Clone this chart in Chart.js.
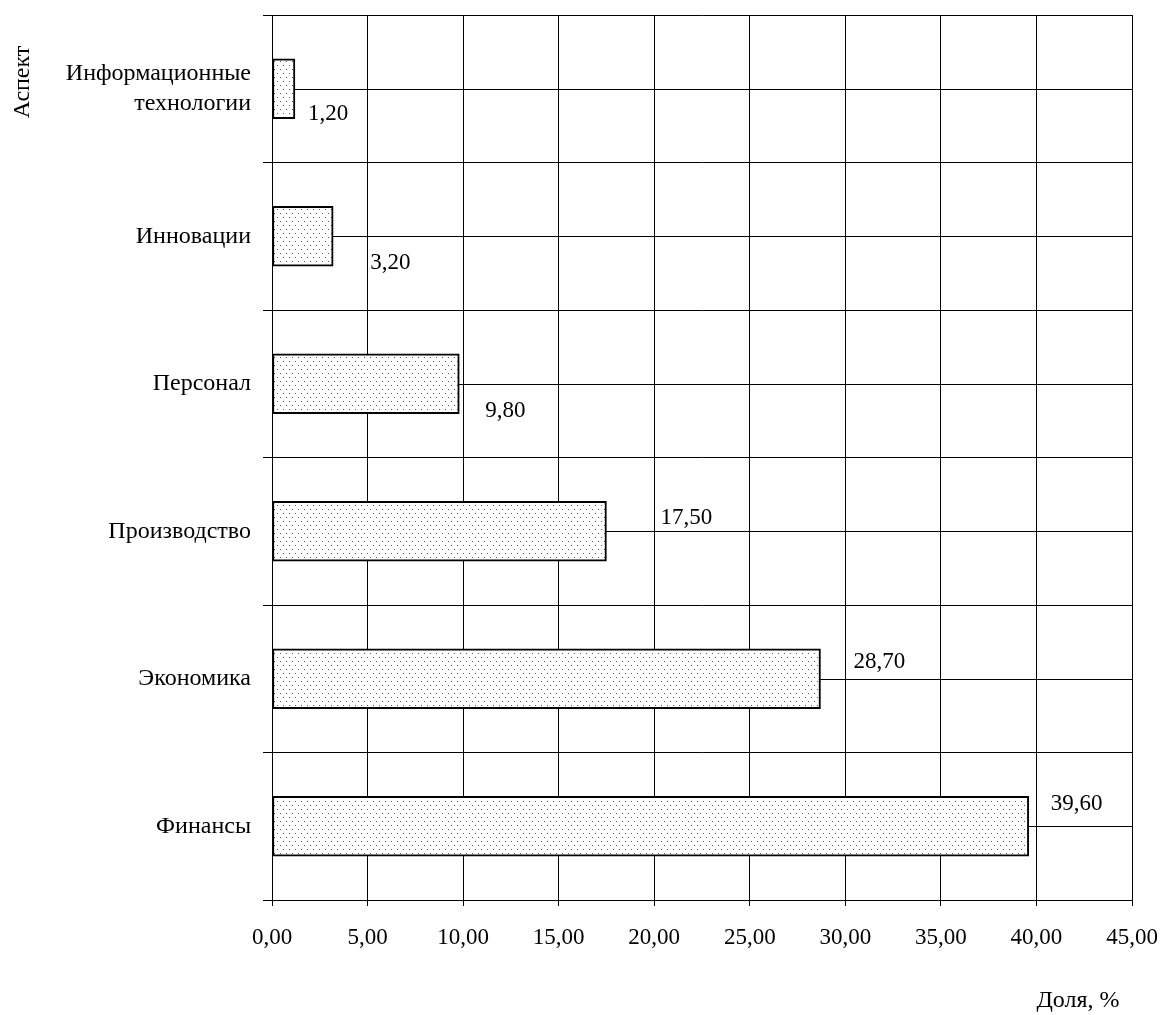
<!DOCTYPE html>
<html>
<head>
<meta charset="utf-8">
<script src="https://cdn.jsdelivr.net/npm/chart.js@4.4.1/dist/chart.umd.min.js"></script>
<style>
  body { margin: 0; background: #fff; }
  #wrap { width: 1164px; height: 1015px; }
</style>
</head>
<body>
<div id="wrap"><canvas id="dolyaChart"></canvas></div>
<script>
// Данные диаграммы
const aspects = [["Информационные", "технологии"], "Инновации", "Персонал", "Производство", "Экономика", "Финансы"];
const shares = [1.2, 3.2, 9.8, 17.5, 28.7, 39.6];
const xTicks = [0, 5, 10, 15, 20, 25, 30, 35, 40, 45];

// Сдвиги подписей значений от конца столбца (в пикселях)
const labelShift = [[13, 25], [37, 27], [26, 27], [54, -13], [33, -17], [22, -22]];

const FONT = "Liberation Serif, Times New Roman, serif";

function fmt(v) {
  return v.toFixed(2).replace(".", ",");
}

function dotPattern() {
  const c = document.createElement("canvas");
  c.width = 6;
  c.height = 8;
  const g = c.getContext("2d");
  g.fillStyle = "#ffffff";
  g.fillRect(0, 0, 6, 8);
  g.fillStyle = "#555555";
  g.fillRect(1, 1, 1, 1);
  g.fillRect(4, 5, 1, 1);
  return g.createPattern(c, "repeat");
}

// Линии сетки по центру категорий (за столбцами)
const centerLines = {
  id: "centerLines",
  beforeDatasetsDraw(chart) {
    const { ctx, chartArea, scales } = chart;
    ctx.save();
    ctx.strokeStyle = "#000";
    ctx.lineWidth = 1;
    aspects.forEach((a, i) => {
      const y = Math.round(scales.y.getPixelForValue(i)) + 0.5;
      ctx.beginPath();
      ctx.moveTo(chartArea.left, y);
      ctx.lineTo(chartArea.right, y);
      ctx.stroke();
    });
    ctx.restore();
  }
};

// Подписи значений и названия осей
const textLayer = {
  id: "textLayer",
  afterDraw(chart) {
    const { ctx } = chart;
    const meta = chart.getDatasetMeta(0);
    ctx.save();
    ctx.fillStyle = "#000";
    ctx.font = "23px " + FONT;
    ctx.textAlign = "left";
    ctx.textBaseline = "middle";
    meta.data.forEach((bar, i) => {
      const s = labelShift[i];
      ctx.fillText(fmt(shares[i]), bar.x + s[0], bar.y + s[1]);
    });

    ctx.font = "24px " + FONT;
    ctx.textAlign = "center";
    ctx.fillText("Доля, %", 1078, 1001);

    ctx.translate(23, 82);
    ctx.rotate(-Math.PI / 2);
    ctx.fillText("Аспект", 0, 0);
    ctx.restore();
  }
};

const ctx = document.getElementById("dolyaChart").getContext("2d");
new Chart(ctx, {
  type: "bar",
  data: {
    labels: aspects,
    datasets: [
      {
        data: shares,
        backgroundColor: dotPattern(),
        borderColor: "#000",
        borderWidth: 2,
        borderSkipped: false,
        barThickness: 60
      }
    ]
  },
  options: {
    indexAxis: "y",
    responsive: true,
    maintainAspectRatio: false,
    animation: false,
    layout: { padding: { left: 0, top: 15, right: 32, bottom: 0 } },
    plugins: {
      legend: { display: false },
      tooltip: { enabled: false }
    },
    scales: {
      x: {
        min: 0,
        max: 45,
        afterBuildTicks(scale) {
          scale.ticks = xTicks.map(v => ({ value: v }));
        },
        afterFit(scale) {
          scale.height = 115;
          scale.paddingLeft = 0;
          scale.paddingRight = 0;
        },
        border: { color: "#000", width: 1 },
        grid: { color: "#000", lineWidth: 1, tickLength: 6 },
        ticks: {
          color: "#000",
          font: { family: FONT, size: 23 },
          padding: 18,
          maxRotation: 0,
          callback: v => fmt(v)
        }
      },
      y: {
        afterFit(scale) {
          scale.width = 272;
          scale.paddingTop = 0;
          scale.paddingBottom = 0;
        },
        border: { color: "#000", width: 1 },
        grid: { color: "#000", lineWidth: 1, offset: true, tickLength: 9 },
        ticks: {
          color: "#000",
          font: { family: FONT, size: 24, lineHeight: 1.25 },
          padding: 12
        }
      }
    }
  },
  plugins: [centerLines, textLayer]
});
</script>
</body>
</html>
